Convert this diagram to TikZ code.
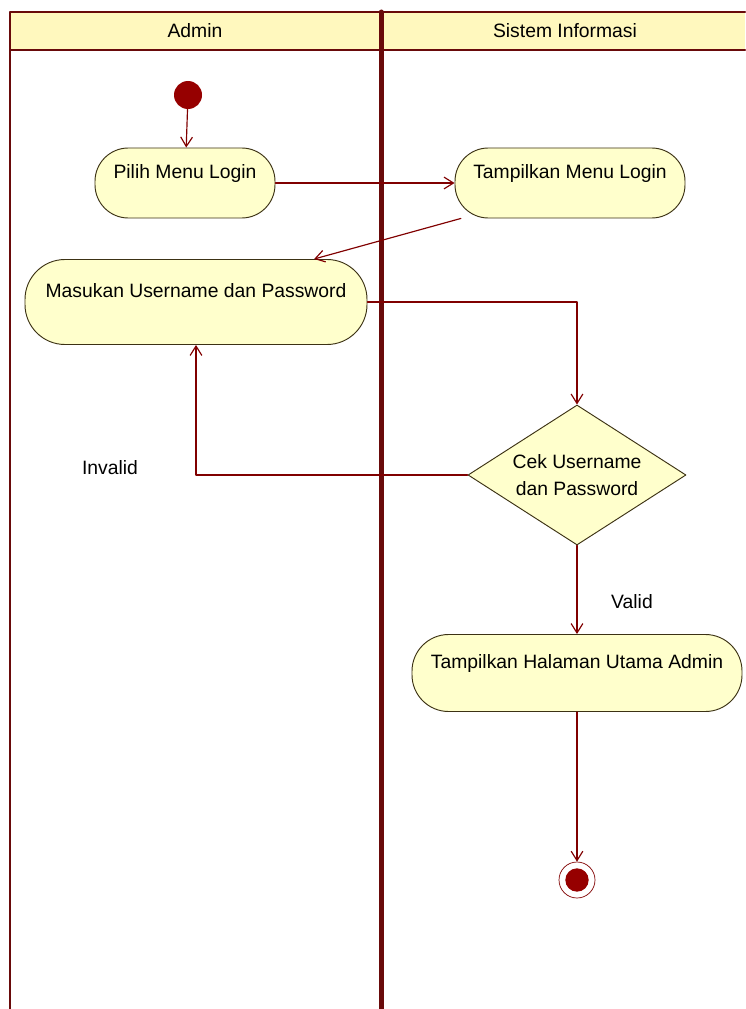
\documentclass[tikz,border=0pt]{standalone}
\usepackage{fontspec}
\setmainfont{Liberation Sans}
\usetikzlibrary{shapes.geometric,arrows.meta}
\definecolor{bordeaux}{RGB}{128,0,0}
\definecolor{rougedebut}{RGB}{150,0,0}
\definecolor{couloir}{RGB}{105,10,10}
\definecolor{jaune}{RGB}{255,255,204}
\definecolor{jauneentete}{RGB}{255,248,190}
\definecolor{contour}{RGB}{60,50,20}

\begin{document}
\begin{tikzpicture}[line cap=round,line join=round,x=0.03cm,y=-0.03cm,
	font=\fontsize{16.5}{20}\selectfont,
	action/.style={draw=contour,fill=jaune,line width=0.8pt,rounded corners=1cm,align=center,inner sep=0pt},
	decision/.style={draw=contour,fill=jaune,line width=0.8pt,diamond,aspect=1.56,align=center,inner sep=0pt,minimum width=6.54cm,minimum height=4.2cm},
	fleche/.style={draw=bordeaux,line width=1pt,-{Straight Barb[length=8pt,width=10pt]}}]
		% Limites du dessin
		\useasboundingbox (0,0) rectangle (745,1009);
		
		% Couloirs
		\fill[jauneentete] (10,12) rectangle (745,50);
		\draw[couloir,line width=0.075cm] (10,1009) -- (10,12) -- (745,12);
		\draw[couloir,line width=0.06cm] (10,50) -- (745,50);
		\draw[couloir,line width=0.15cm] (381,12) -- (381,1009);
		\node (admin) at (195,31) {Admin};
		\node (sistem) at (565,31) {Sistem Informasi};
		
		% Debut et fin
		\node[circle,fill=rougedebut,minimum size=0.84cm,inner sep=0pt] (debut) at (188,95) {};
		\node[circle,draw=bordeaux,fill=white,line width=0.6pt,minimum size=1.08cm,inner sep=0pt] (fin) at (577,880) {};
		\node[circle,fill=rougedebut,minimum size=0.7cm,inner sep=0pt] (fincentre) at (fin) {};
		
		% Activites
		\node[action,minimum width=5.4cm,minimum height=2.1cm] (pilih) at (185,183) {Pilih Menu Login\\\mbox{}};
		\node[action,minimum width=6.9cm,minimum height=2.1cm] (tampil) at (570,183) {Tampilkan Menu Login\\\mbox{}};
		\node[action,minimum width=10.26cm,minimum height=2.55cm,rounded corners=1.2cm] (masuk) at (196,302) {Masukan Username dan Password\\\mbox{}};
		\node[decision,font=\fontsize{16.5}{23}\selectfont] (cek) at (577,475) {Cek Username\\dan Password};
		\node[action,minimum width=9.9cm,minimum height=2.31cm,rounded corners=1.1cm] (halaman) at (577,673) {Tampilkan Halaman Utama Admin\\\mbox{}};
		
		% Gardes
		\node (invalid) at (110,468) {Invalid};
		\node (valid) at (632,602) {Valid};
		
		% Transitions
		\draw[fleche] (debut) -- (pilih);
		\draw[fleche] (pilih) -- (tampil);
		\draw[fleche] (tampil.198) -- (masuk.20);
		\draw[fleche] (masuk.east) -| (cek.north);
		\draw[fleche] (cek.west) -| (masuk.south);
		\draw[fleche] (cek.south) -- (halaman.north);
		\draw[fleche] (halaman.south) -- (fin.north);
	\end{tikzpicture}
\end{document}
